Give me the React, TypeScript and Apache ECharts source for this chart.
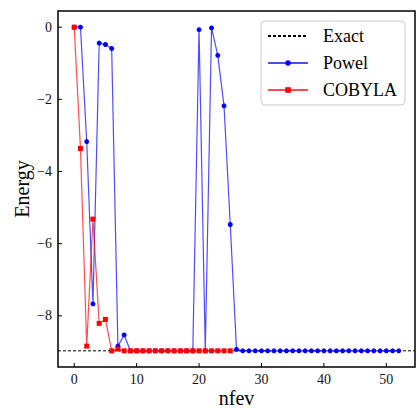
import React, { useEffect, useRef } from "react";
import * as echarts from "echarts";

const EXACT = -8.97;

const powelValues = [
  0, 0, -3.17, -7.67, -0.44, -0.48, -0.59, -8.84, -8.53, -8.97,
  -8.97, -8.97, -8.97, -8.97, -8.97, -8.97, -8.97, -8.97, -8.97, -8.97,
  -0.07, -8.97, -0.02, -0.78, -2.18, -5.47, -8.93, -8.97, -8.97, -8.97,
  -8.97, -8.97, -8.97, -8.97, -8.97, -8.97, -8.97, -8.97, -8.97, -8.97,
  -8.97, -8.97, -8.97, -8.97, -8.97, -8.97, -8.97, -8.97, -8.97, -8.97,
  -8.97, -8.97, -8.97,
];

const cobylaValues = [
  0, -3.36, -8.84, -5.32, -8.21, -8.1, -8.97, -8.92, -8.97, -8.97,
  -8.97, -8.97, -8.97, -8.97, -8.97, -8.97, -8.97, -8.97, -8.97, -8.97,
  -8.97, -8.97, -8.97, -8.97, -8.97, -8.97,
];

const xTicks = [0, 10, 20, 30, 40, 50];
const yTicks = [0, -2, -4, -6, -8];

const FONT = "Liberation Serif";

export default function App() {
  const ref = useRef<HTMLDivElement>(null);
  useEffect(() => {
    if (!ref.current) return;
    const chart = echarts.init(ref.current, null, { renderer: "svg" });
    const n = powelValues.length - 1;
    const xMin = -0.05 * n;
    const xMax = n + 0.05 * n;
    const yMaxD = 0;
    const yMinD = EXACT;
    const yr = yMaxD - yMinD;
    const yMin = yMinD - 0.05 * yr;
    const yMax = yMaxD + 0.05 * yr;
    const fmt = (v: number) => String(v).replace("-", "\u2212");
    const TL = 4;
    chart.setOption({
      animation: false,
      grid: {
        left: 58,
        top: 11,
        width: 357,
        height: 356,
        containLabel: false,
        outerBoundsMode: "none",
        show: true,
        borderColor: "#000",
        borderWidth: 1.5,
        backgroundColor: "transparent",
      },
      legend: {
        orient: "vertical",
        left: 261,
        top: 21,
        width: 146,
        padding: [6, 8, 6, 6],
        backgroundColor: "rgba(255,255,255,0.8)",
        borderColor: "#ccc",
        borderWidth: 1,
        borderRadius: 4,
        itemWidth: 40,
        itemHeight: 7,
        itemGap: 9,
        textStyle: { fontFamily: FONT, fontSize: 18, color: "#000", padding: [0, 0, 0, 10] },
        data: [
          { name: "Exact", itemStyle: { opacity: 0 } },
          "Powel",
          "COBYLA",
        ],
      },
      xAxis: {
        type: "value",
        min: xMin,
        max: xMax,
        name: "nfev",
        nameLocation: "middle",
        nameGap: 22,
        nameMoveOverlap: false,
        nameTextStyle: { fontFamily: FONT, fontSize: 20, lineHeight: 18, color: "#000" },
        axisLine: { show: false },
        splitLine: { show: false },
        axisTick: { show: false },
        axisLabel: {
          fontFamily: FONT,
          fontSize: 14,
          color: "#111",
          margin: 5,
          customValues: xTicks,
          formatter: fmt,
        },
      },
      yAxis: {
        type: "value",
        min: yMin,
        max: yMax,
        name: "Energy",
        nameLocation: "middle",
        nameGap: 26,
        nameMoveOverlap: false,
        nameTextStyle: { fontFamily: FONT, fontSize: 20, lineHeight: 20, color: "#000" },
        axisLine: { show: false },
        splitLine: { show: false },
        axisTick: { show: false },
        axisLabel: {
          fontFamily: FONT,
          fontSize: 14,
          color: "#111",
          margin: 6,
          customValues: yTicks,
          formatter: fmt,
        },
      },
      series: [
        {
          name: "xticks",
          type: "custom",
          silent: true,
          clip: false,
          data: xTicks.map((v) => [v]),
          encode: { x: 0 },
          renderItem: (params: any, api: any) => {
            const p = api.coord([api.value(0), yMin]);
            return {
              type: "line",
              shape: { x1: p[0], y1: p[1], x2: p[0], y2: p[1] - TL },
              style: { stroke: "#000", lineWidth: 1 },
            };
          },
          z: 5,
        },
        {
          name: "yticks",
          type: "custom",
          silent: true,
          clip: false,
          data: yTicks.map((v) => [v]),
          encode: { y: 0 },
          renderItem: (params: any, api: any) => {
            const p = api.coord([xMin, api.value(0)]);
            return {
              type: "line",
              shape: { x1: p[0], y1: p[1], x2: p[0] + TL, y2: p[1] },
              style: { stroke: "#000", lineWidth: 1 },
            };
          },
          z: 5,
        },
        {
          name: "Exact",
          type: "line",
          symbol: "none",
          data: [
            [xMin, EXACT],
            [xMax, EXACT],
          ],
          lineStyle: { color: "#000", width: 1, type: [3, 2] },
          itemStyle: { color: "#000" },
          z: 1,
        },
        {
          name: "Powel",
          type: "line",
          symbol: "circle",
          symbolSize: 5,
          data: powelValues.map((v, i) => [i, v]),
          lineStyle: { color: "rgba(0,0,255,0.7)", width: 1.2 },
          itemStyle: { color: "#0000ff" },
          z: 2,
        },
        {
          name: "COBYLA",
          type: "line",
          symbol: "rect",
          symbolSize: 5,
          data: cobylaValues.map((v, i) => [i, v]),
          lineStyle: { color: "rgba(255,0,0,0.7)", width: 1.2 },
          itemStyle: { color: "#ff0000" },
          z: 3,
        },
      ],
    });
    return () => chart.dispose();
  }, []);
  return (
    <div
      ref={ref}
      style={{ position: "fixed", left: 0, top: 0, width: 416, height: 408, background: "#fff" }}
    />
  );
}
